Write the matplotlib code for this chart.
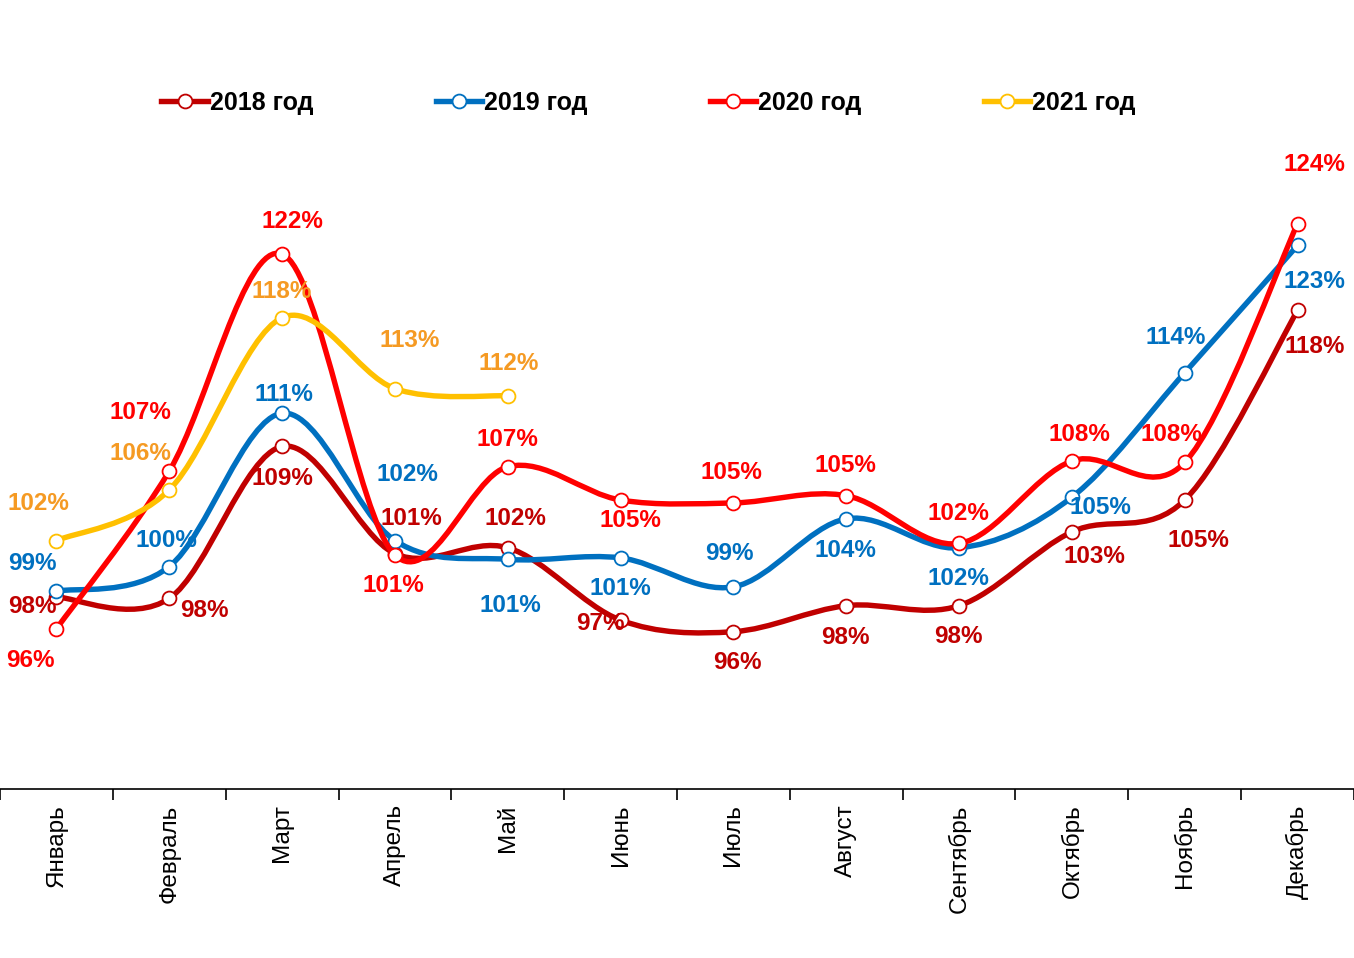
import matplotlib
matplotlib.use("Agg")
import matplotlib.pyplot as plt
from matplotlib.path import Path
from matplotlib.patches import PathPatch
from matplotlib.lines import Line2D

plt.rcParams['font.family'] = ['Liberation Sans', 'DejaVu Sans']

months = ['Январь', 'Февраль', 'Март', 'Апрель', 'Май', 'Июнь', 'Июль',
          'Август', 'Сентябрь', 'Октябрь', 'Ноябрь', 'Декабрь']

# values in %
y2018 = [98.2, 98.1, 108.6, 101.2, 101.6, 96.6, 95.8, 97.6, 97.6, 102.7, 104.9, 118.0]
y2019 = [98.6, 100.3, 110.9, 102.1, 100.8, 100.9, 98.9, 103.6, 101.6, 105.1, 113.7, 122.5]
y2020 = [96.0, 106.9, 121.9, 101.1, 107.2, 104.9, 104.7, 105.2, 101.9, 107.6, 107.5, 124.0]
y2021 = [102.1, 105.6, 117.5, 112.6, 112.1]

series_names = ['2018 год', '2019 год', '2020 год', '2021 год']
line_colors = ['#C00000', '#0070C0', '#FF0000', '#FFC000']
text_colors = ['#C00000', '#0070C0', '#FF0000', '#F59A23']

# label offsets in pixels from the point (dx, dy)
off2018 = [(-24, -10), (35, -12), (0, -32), (16, 35), (8, 29), (-20, -3),
           (4, -31), (-1, -32), (-1, -31), (23, -25), (14, -40), (17, -36)]
off2019 = [(-24, 28), (-3, 26), (2, 19), (13, 66), (3, -46), (0, -31),
           (-4, 33), (-1, -32), (-1, -31), (29, -10), (-9, 35), (17, -36)]
off2020 = [(-26, -32), (-29, 59), (10, 33), (-2, -30), (0, 27), (10, -20),
           (-2, 30), (-1, 30), (-1, 30), (8, 26), (-13, 28), (17, 59)]
off2021 = [(-18, 37), (-29, 36), (0, 26), (15, 48), (1, 32)]


def smooth_path(xs, ys):
    # excel-like smoothed line: cubic bezier through the points
    pts = list(zip(xs, ys))
    n = len(pts)
    verts = [pts[0]]
    codes = [Path.MOVETO]
    for i in range(n - 1):
        p0 = pts[i - 1] if i > 0 else pts[i]
        p1 = pts[i]
        p2 = pts[i + 1]
        p3 = pts[i + 2] if i + 2 < n else pts[i + 1]
        c1 = (p1[0] + (p2[0] - p0[0]) / 6, p1[1] + (p2[1] - p0[1]) / 6)
        c2 = (p2[0] - (p3[0] - p1[0]) / 6, p2[1] - (p3[1] - p1[1]) / 6)
        verts += [c1, c2, p2]
        codes += [Path.CURVE4] * 3
    return Path(verts, codes)


fig = plt.figure(figsize=(13.54, 9.58), dpi=100)
ax = fig.add_axes([0, 0.1764, 1, 0.782])

all_series = [y2018, y2019, y2020, y2021]
all_offsets = [off2018, off2019, off2020, off2021]

for k, ys in enumerate(all_series):
    xs = list(range(len(ys)))
    patch = PathPatch(smooth_path(xs, ys), facecolor='none', edgecolor=line_colors[k],
                      lw=3.9, capstyle='round', joinstyle='round', zorder=2 + k)
    ax.add_patch(patch)
    ax.plot(xs, ys, ls='none', marker='o', ms=10, mfc='white', mec=line_colors[k],
            mew=1.3, zorder=2 + k)

for k, ys in enumerate(all_series):
    for i, v in enumerate(ys):
        dx, dy = all_offsets[k][i]
        ax.annotate(f"{int(v + 0.5)}%", (i, v), xytext=(dx, dy), textcoords='offset pixels',
                    ha='center', va='center', fontsize=17.5, fontweight='bold',
                    color=text_colors[k], zorder=10)

ax.set_xlim(-0.5, 11.5)
ax.set_ylim(84.93, 136.7)

for s in ['top', 'left', 'right']:
    ax.spines[s].set_visible(False)
ax.spines['bottom'].set_color('black')
ax.spines['bottom'].set_linewidth(1.2)
ax.set_yticks([])

ax.set_xticks(range(12))
ax.set_xticklabels(months, rotation=90, fontsize=17.5)
ax.tick_params(axis='x', which='major', length=0, pad=11)
ax.set_xticks([i - 0.5 for i in range(13)], minor=True)
ax.tick_params(axis='x', which='minor', length=8, width=1.2, direction='out', color='black')

handles = [Line2D([], [], color=c, lw=3.9, marker='o', ms=10, mfc='white', mec=c, mew=1.3)
           for c in line_colors]
fig.legend(handles, series_names, loc='center', bbox_to_anchor=(0.4790, 0.8925), ncol=4,
           frameon=False, handlelength=1.85, handletextpad=0.08, columnspacing=4.9,
           prop=dict(family='Liberation Sans', weight='bold', size=18))

fig.savefig('out.png', dpi=100)
